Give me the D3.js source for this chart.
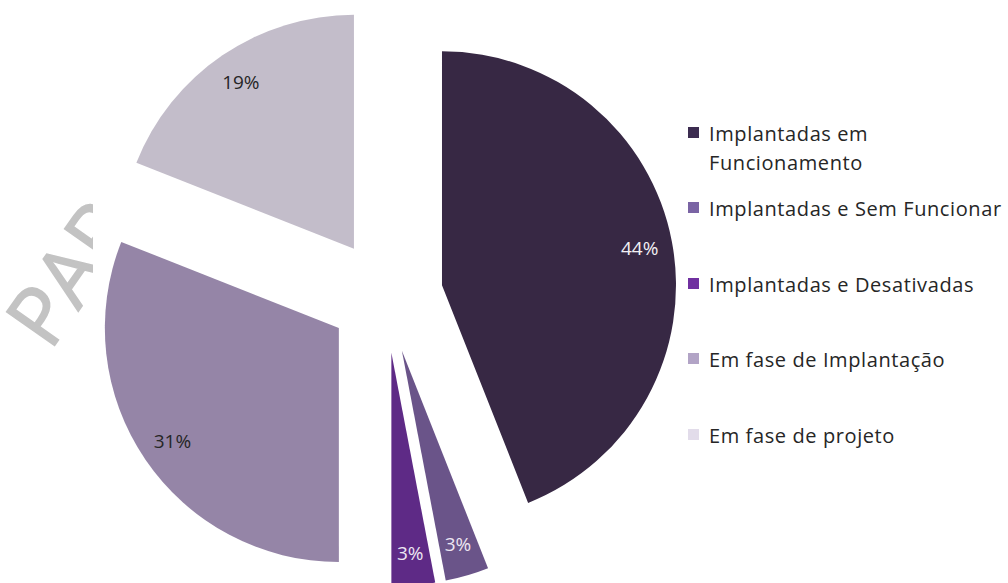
<!DOCTYPE html>
<html>
<head>
<meta charset="utf-8">
<script src="https://cdn.jsdelivr.net/npm/d3@7"></script>
<style>
  body { margin: 0; background: #fff; }
  svg { display: block; }
</style>
</head>
<body>
<svg id="chart" width="1008" height="583"></svg>
<script>
const categories = ["Implantadas em Funcionamento", "Implantadas e Sem Funcionar", "Implantadas e Desativadas", "Em fase de Implantação", "Em fase de projeto"];
const legendLines = [["Implantadas em", "Funcionamento"], ["Implantadas e Sem Funcionar"], ["Implantadas e Desativadas"], ["Em fase de Implantação"], ["Em fase de projeto"]];
const values = [44, 3, 3, 31, 19];
const pctLabels = ["44%", "3%", "3%", "31%", "19%"];

const sliceColors = ["#372844", "#6a5489", "#5e2a86", "#9585a7", "#c3bdca"];
const swatchColors = ["#3c2c50", "#7a64a4", "#7030a0", "#b2a4c6", "#e2dcea"];
const labelColors = ["#f2f0f4", "#ece6f2", "#ece6f2", "#262626", "#262626"];

const svg = d3.select('#chart');
const cx = 386, cy = 296, radius = 234, explode = 57;

// watermark, partly hidden by the chart area
svg.append('text')
  .attr('transform', 'translate(50,352) rotate(-55)')
  .attr('font-family', 'Open Sans, DejaVu Sans, sans-serif')
  .attr('font-size', 82)
  .attr('fill', '#c3c3c3')
  .attr('stroke', '#c3c3c3')
  .attr('stroke-width', 1.5)
  .text('PARA');

svg.append('rect')
  .attr('x', 93).attr('y', 0)
  .attr('width', 1008 - 93).attr('height', 583)
  .attr('fill', '#fff');

const pie = d3.pie().sort(null).value(d => d)(values);
const arc = d3.arc().innerRadius(0).outerRadius(radius);

const g = svg.append('g').attr('transform', `translate(${cx},${cy})`);

const slices = g.selectAll('g.slice')
  .data(pie)
  .enter()
  .append('g')
  .attr('class', 'slice')
  .attr('transform', d => {
    const mid = (d.startAngle + d.endAngle) / 2;
    return `translate(${Math.sin(mid) * explode},${-Math.cos(mid) * explode})`;
  });

slices.append('path')
  .attr('d', arc)
  .attr('fill', (d, i) => sliceColors[i]);

slices.append('text')
  .attr('x', d => Math.sin((d.startAngle + d.endAngle) / 2) * radius * 0.86)
  .attr('y', d => -Math.cos((d.startAngle + d.endAngle) / 2) * radius * 0.86)
  .attr('text-anchor', 'middle')
  .attr('dominant-baseline', 'central')
  .attr('font-family', 'Open Sans, sans-serif')
  .attr('font-size', 19)
  .attr('fill', (d, i) => labelColors[i])
  .text((d, i) => pctLabels[i]);

// legend
const legendY = [133, 208, 284, 359, 435];
const legend = svg.append('g');
categories.forEach((c, i) => {
  legend.append('rect')
    .attr('x', 688).attr('y', legendY[i] - 6)
    .attr('width', 11).attr('height', 11)
    .attr('fill', swatchColors[i]);
  const t = legend.append('text')
    .attr('x', 709).attr('y', legendY[i])
    .attr('dominant-baseline', 'central')
    .attr('font-family', 'Open Sans, sans-serif')
    .attr('font-size', 20)
    .attr('letter-spacing', 0.6)
    .attr('fill', '#262626');
  legendLines[i].forEach((l, j) => {
    t.append('tspan').attr('x', 709).attr('dy', j === 0 ? 0 : 29).text(l);
  });
});
</script>
</body>
</html>
